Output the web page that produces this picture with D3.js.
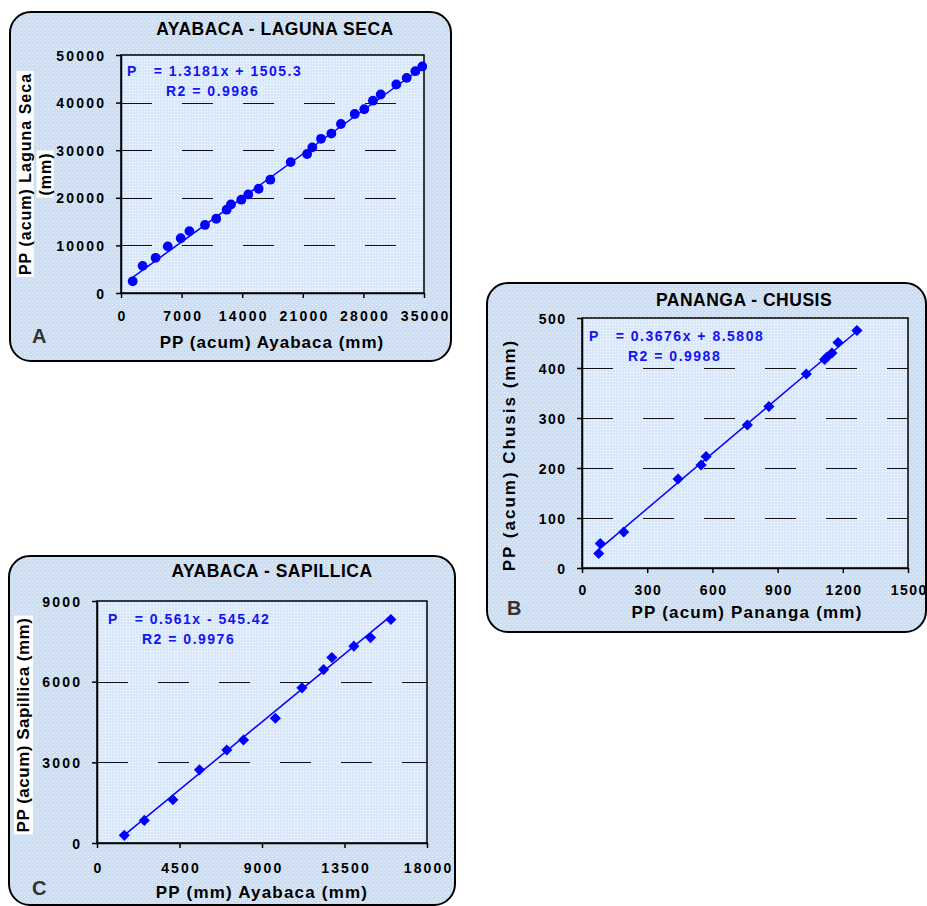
<!DOCTYPE html>
<html><head><meta charset="utf-8">
<script src="https://cdn.jsdelivr.net/npm/d3@7"></script>
<style>
body{margin:0;background:#fff}
svg{display:block}
text{font-family:"Liberation Sans",Arial,Helvetica,sans-serif;font-weight:bold}
</style>
</head><body>
<svg id="chart" width="927" height="906"></svg>
<script>
// ---------- Panel A : Ayabaca vs Laguna Seca ----------
const aTitle = "AYABACA - LAGUNA SECA";
const aXLabel = "PP (acum) Ayabaca (mm)";
const aYLabel = ["PP (acum) Laguna Seca", "(mm)"];
const aX = [1350, 2500, 4000, 5400, 6900, 7900, 9700, 11000, 12200, 12700, 13900, 14700, 15900, 17250, 19600, 21500, 22100, 23100, 24300, 25400, 27000, 28100, 29100, 30000, 31800, 33000, 34000, 34800];
const aY = [2450, 5700, 7400, 9800, 11500, 13000, 14300, 15600, 17500, 18600, 19600, 20700, 21900, 23800, 27500, 29200, 30600, 32400, 33500, 35500, 37600, 38600, 40400, 41700, 43800, 45200, 46600, 47600];
const aXTicks = [0, 7000, 14000, 21000, 28000, 35000];
const aYTicks = [0, 10000, 20000, 30000, 40000, 50000];
const aFit = [1.3181, 1505.3];
const aEq = ["P   = 1.3181x + 1505.3", "R2 = 0.9986"];

// ---------- Panel B : Pananga vs Chusis ----------
const bTitle = "PANANGA - CHUSIS";
const bXLabel = "PP (acum) Pananga (mm)";
const bYLabel = ["PP (acum) Chusis (mm)"];
const bX = [77, 84, 192, 442, 548, 571, 761, 860, 1032, 1116, 1128, 1150, 1178, 1265];
const bY = [29, 49, 72, 178, 206, 223, 286, 323, 388, 417, 422, 430, 451, 475];
const bXTicks = [0, 300, 600, 900, 1200, 1500];
const bYTicks = [0, 100, 200, 300, 400, 500];
const bFit = [0.3676, 8.5808];
const bEq = ["P   = 0.3676x + 8.5808", "R2 = 0.9988"];

// ---------- Panel C : Ayabaca vs Sapillica ----------
const cTitle = "AYABACA - SAPILLICA";
const cXLabel = "PP (mm) Ayabaca (mm)";
const cYLabel = ["PP (acum) Sapillica (mm)"];
const cX = [1490, 2580, 4140, 5590, 7080, 7990, 9730, 11180, 12360, 12810, 14010, 14920, 16030];
const cY = [285, 840, 1610, 2720, 3460, 3830, 4640, 5770, 6450, 6900, 7320, 7640, 8310];
const cXTicks = [0, 4500, 9000, 13500, 18000];
const cYTicks = [0, 3000, 6000, 9000];
const cFit = [0.561, -545.42];
const cEq = ["P   = 0.561x - 545.42", "R2 = 0.9976"];

const svg = d3.select("#chart");
const defs = svg.append("defs");
const pO = defs.append("pattern").attr("id","pOut").attr("width",4).attr("height",4).attr("patternUnits","userSpaceOnUse");
pO.append("rect").attr("width",4).attr("height",4).attr("fill","#c9dff8");
pO.append("rect").attr("width",1).attr("height",1).attr("fill","#eef5fe");
pO.append("rect").attr("x",2).attr("y",2).attr("width",1).attr("height",1).attr("fill","#e2eefc");
const pI = defs.append("pattern").attr("id","pIn").attr("width",3).attr("height",3).attr("patternUnits","userSpaceOnUse");
pI.append("rect").attr("width",3).attr("height",3).attr("fill","#d9e8fa");
pI.append("rect").attr("width",1).attr("height",1).attr("fill","#ffffff");

const BLUE = "#0000ff";
const TEXTBLUE = "#1414f0";

function panel(c) {
  const g = svg.append("g");
  g.append("rect").attr("x", c.box[0]).attr("y", c.box[1])
    .attr("width", c.box[2]-c.box[0]).attr("height", c.box[3]-c.box[1])
    .attr("rx", 21).attr("ry", 21)
    .attr("fill", "url(#pOut)").attr("stroke", "#000").attr("stroke-width", 2);

  const [L, T, R, B] = c.plot;
  const x = d3.scaleLinear().domain(d3.extent(c.xTicks)).range([L, R]);
  const y = d3.scaleLinear().domain(d3.extent(c.yTicks)).range([B, T]);

  g.append("rect").attr("x", L).attr("y", T).attr("width", R-L).attr("height", B-T)
    .attr("fill", "url(#pIn)");

  // dashed grid lines
  g.selectAll(".grid").data(c.yTicks.slice(1, -1)).join("line")
    .attr("x1", L).attr("x2", R).attr("y1", d => Math.round(y(d))+0.5).attr("y2", d => Math.round(y(d))+0.5)
    .attr("stroke", "#111").attr("stroke-width", 1).attr("stroke-dasharray", "31,30");

  g.append("rect").attr("x", L).attr("y", T).attr("width", R-L).attr("height", B-T)
    .attr("fill", "none").attr("stroke", "#000").attr("stroke-width", 1.5);

  // axes
  const xa = g.append("g").attr("transform", `translate(0,${B})`)
    .call(d3.axisBottom(x).tickValues(c.xTicks).tickSize(5).tickSizeOuter(0).tickFormat(d3.format("d")));
  const ya = g.append("g").attr("transform", `translate(${L},0)`)
    .call(d3.axisLeft(y).tickValues(c.yTicks).tickSize(5).tickSizeOuter(0).tickFormat(d3.format("d")));
  [xa, ya].forEach(a => {
    a.attr("font-family", null).attr("font-size", null);
    a.selectAll("path,line").attr("stroke", "#000").attr("stroke-width", 1.5);
    a.selectAll("text").attr("fill", "#000").style("font-size", "14px").style("letter-spacing", c.tickLS + "px");
  });
  xa.selectAll("text").attr("y", c.xLabDy).attr("dy", 0).attr("dx", c.tickLS/2);
  ya.selectAll("text").attr("x", -17 + c.tickLS).attr("dy", "0.36em");

  // fit line
  const [m, b0] = c.fit;
  const xe = d3.extent(c.xs);
  g.append("line").attr("x1", x(xe[0])).attr("y1", y(m*xe[0]+b0)).attr("x2", x(xe[1])).attr("y2", y(m*xe[1]+b0))
    .attr("stroke", BLUE).attr("stroke-width", 1.5);

  // markers
  const pts = c.xs.map((v, i) => [v, c.ys[i]]);
  if (c.marker === "circle") {
    g.selectAll(".pt").data(pts).join("circle")
      .attr("cx", d => x(d[0])).attr("cy", d => y(d[1])).attr("r", 4.9).attr("fill", BLUE);
  } else {
    const sym = d3.symbol().type(d3.symbolSquare).size(62);
    g.selectAll(".pt").data(pts).join("path")
      .attr("d", sym).attr("transform", d => `translate(${x(d[0])},${y(d[1])}) rotate(45)`).attr("fill", BLUE);
  }

  // equation
  g.append("text").attr("x", c.eqPos[0]).attr("y", c.eqPos[1]).text(c.eq[0])
    .attr("fill", TEXTBLUE).style("font-size", "14px").style("letter-spacing", "1.5px").style("white-space", "pre");
  g.append("text").attr("x", c.eqPos[2]).attr("y", c.eqPos[1] + 20).text(c.eq[1])
    .attr("fill", TEXTBLUE).style("font-size", "14px").style("letter-spacing", "1.5px").style("white-space", "pre");

  // title
  g.append("text").attr("x", c.titlePos[0]).attr("y", c.titlePos[1]).attr("text-anchor", "middle")
    .text(c.title).style("font-size", "17.5px").style("letter-spacing", "0.5px").attr("fill", "#000");
  // x label
  g.append("text").attr("x", c.xlabPos[0]).attr("y", c.xlabPos[1]).attr("text-anchor", "middle")
    .text(c.xlab).style("font-size", "17px").style("letter-spacing", c.xlabLS + "px").attr("fill", "#000");
  // y label(s)
  c.ylab.forEach((t, i) => {
    const [cx, cy] = c.ylabPos[i];
    const yg = g.append("g").attr("transform", `translate(${cx},${cy}) rotate(-90)`);
    const tx = yg.append("text").attr("x", 0).attr("y", 0).attr("dy", "0.35em").attr("text-anchor", "middle")
      .text(t).style("font-size", c.ylabFS + "px").style("letter-spacing", c.ylabLS[i] + "px").attr("fill", "#000");
    if (c.ylabBg) {
      const bb = tx.node().getBBox();
      yg.insert("rect", "text").attr("x", bb.x - 2).attr("y", bb.y).attr("width", bb.width + 4).attr("height", bb.height)
        .attr("fill", "#fff");
    }
  });
  // panel letter
  g.append("text").attr("x", c.letterPos[0]).attr("y", c.letterPos[1]).text(c.letter)
    .style("font-size", "20px").attr("fill", "#333");
}

panel({
  box: [10, 12, 451, 361], plot: [121, 55, 424, 293],
  xs: aX, ys: aY, xTicks: aXTicks, yTicks: aYTicks, fit: aFit, eq: aEq, marker: "circle",
  tickLS: 2.2, xLabDy: 28,
  eqPos: [127, 76, 166],
  title: aTitle, titlePos: [275, 35],
  xlab: aXLabel, xlabPos: [272, 348], xlabLS: 1,
  ylab: aYLabel, ylabPos: [[25, 174], [45, 174]], ylabFS: 16, ylabLS: [1, 1], ylabBg: true,
  letter: "A", letterPos: [32, 343]
});
panel({
  box: [487, 283, 926, 632], plot: [582, 318, 908, 568],
  xs: bX, ys: bY, xTicks: bXTicks, yTicks: bYTicks, fit: bFit, eq: bEq, marker: "diamond",
  tickLS: 1.5, xLabDy: 27,
  eqPos: [589, 341, 628],
  title: bTitle, titlePos: [744, 306],
  xlab: bXLabel, xlabPos: [747, 618], xlabLS: 1.2,
  ylab: bYLabel, ylabPos: [[509, 455]], ylabFS: 17, ylabLS: [2], ylabBg: false,
  letter: "B", letterPos: [507, 615]
});
panel({
  box: [9, 556, 455, 905], plot: [97, 601, 427, 843],
  xs: cX, ys: cY, xTicks: cXTicks, yTicks: cYTicks, fit: cFit, eq: cEq, marker: "diamond",
  tickLS: 2.2, xLabDy: 30,
  eqPos: [108, 624, 142],
  title: cTitle, titlePos: [272, 577],
  xlab: cXLabel, xlabPos: [262, 898], xlabLS: 1.2,
  ylab: cYLabel, ylabPos: [[23, 725]], ylabFS: 17, ylabLS: [0.5], ylabBg: true,
  letter: "C", letterPos: [32, 895]
});
</script>
</body></html>
